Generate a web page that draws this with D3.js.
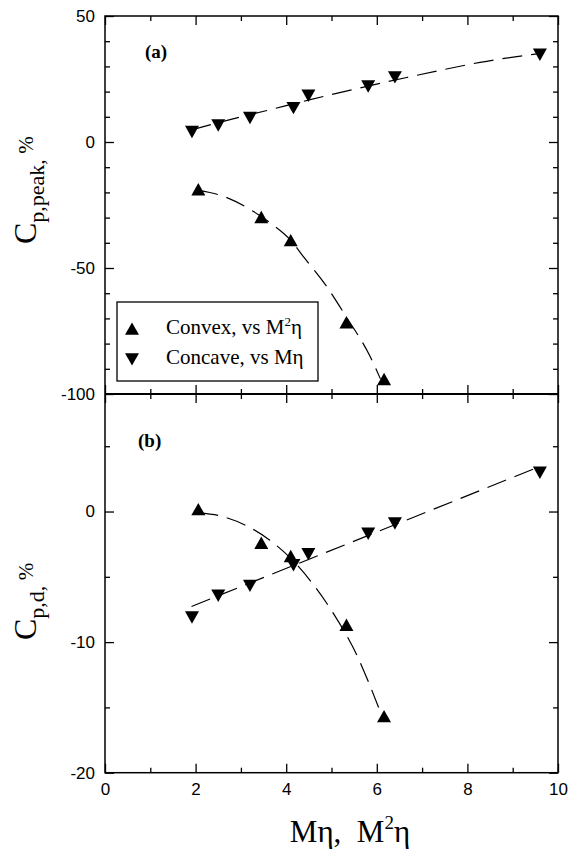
<!DOCTYPE html>
<html>
<head>
<meta charset="utf-8">
<script src="https://cdn.jsdelivr.net/npm/d3@7"></script>
<style>
  html, body { margin: 0; padding: 0; background: #fff; }
  svg { display: block; }
</style>
</head>
<body>
<div id="chart"></div>
<script>
// Two stacked panels sharing the x axis: (a) peak Cp, (b) Cp,d
// Upward triangles = convex (vs M^2 eta), downward = concave (vs M eta)

const convexX      = [2.06, 3.45, 4.10, 5.33, 6.16];
const convexPeak   = [-18.9, -29.9, -39.1, -71.7, -94.2];
const convexD      = [0.15, -2.42, -3.44, -8.70, -15.7];

const concaveX     = [1.92, 2.50, 3.20, 4.16, 4.49, 5.81, 6.40, 9.60];
const concavePeak  = [4.1, 6.7, 9.7, 13.6, 18.5, 22.2, 25.8, 34.8];
const concaveD     = [-8.08, -6.42, -5.66, -4.08, -3.24, -1.67, -0.89, 3.0];

// dashed fit curves
const fitPeakConvexX  = [2.06, 2.61, 3.27, 3.64, 4.10, 4.38, 4.86, 5.33, 5.85, 6.08];
const fitPeakConvexY  = [-19.2, -21.5, -27.5, -32, -39, -45.5, -56.5, -69.5, -85, -94];
const fitPeakConcaveX = [1.91, 2.76, 3.53, 4.53, 5.11, 6.66, 7.47, 8.28, 9.55];
const fitPeakConcaveY = [4.8, 8.9, 12.3, 16.8, 19.3, 25.6, 28.7, 31.6, 35.0];
const fitDConvexX     = [2.06, 2.50, 3.13, 3.64, 4.16, 4.60, 5.04, 5.56, 5.81, 6.04];
const fitDConvexY     = [-0.1, -0.3, -1.1, -2.2, -3.8, -5.6, -7.8, -11.0, -13.0, -15.0];
const fitDConcaveX    = [1.91, 9.60];
const fitDConcaveY    = [-7.27, 3.45];

const xTicksMajor     = [0, 2, 4, 6, 8, 10];
const xTicksMinor     = [1, 3, 5, 7, 9];
const peakTicksMajor  = [50, 0, -50, -100];
const peakTicksMinor  = [40, 30, 20, 10, -10, -20, -30, -40, -60, -70, -80, -90];
const dTicksMajor     = [0, -10, -20];
const dTicksMinor     = [5, -5, -15];

const legendLabels    = ["Convex, vs M", "Concave, vs M\u03b7"];

const W = 568, H = 852;
const L = 105, R = 558, T = 16, MID = 394, B = 772.7;
const SANS  = "'Liberation Sans', Arial, sans-serif";
const SERIF = "'Liberation Serif', 'Times New Roman', serif";

const x     = d3.scaleLinear().domain([0, 10]).range([L, R]);
const yPeak = d3.scaleLinear().domain([-100, 50]).range([MID, T]);
const yD    = d3.scaleLinear().domain([-20, 9]).range([B, MID]);

const svg = d3.select("#chart").append("svg")
  .attr("width", W)
  .attr("height", H)
  .attr("viewBox", `0 0 ${W} ${H}`);

const UP   = "M-7,5.8L7,5.8L0,-6.6Z";
const DOWN = "M-7,-5.8L7,-5.8L0,6.6Z";

function zip(xs, ys) { return xs.map((v, i) => [v, ys[i]]); }

function styleAxis(g, labels) {
  g.select(".domain").remove();
  g.selectAll(".tick line").attr("stroke", "#000").attr("stroke-width", 1.3);
  g.selectAll("text")
    .attr("fill", "#000")
    .attr("font-size", "17px")
    .attr("font-family", SANS)
    .style("display", labels ? null : "none");
}

function drawTicks(yScale, top, bottom, yMajor, yMinor, bottomLabels) {
  const defs = [
    [d3.axisLeft,   yScale, L, 0, yMajor, yMinor, true],
    [d3.axisRight,  yScale, R, 0, yMajor, yMinor, false],
    [d3.axisTop,    x, 0, top,    xTicksMajor, xTicksMinor, false],
    [d3.axisBottom, x, 0, bottom, xTicksMajor, xTicksMinor, bottomLabels],
  ];
  defs.forEach(([fn, sc, tx, ty, major, minor, labels]) => {
    const gMaj = svg.append("g")
      .attr("transform", `translate(${tx},${ty})`)
      .call(fn(sc).tickValues(major).tickSize(-9).tickPadding(10).tickFormat(d => String(d)));
    styleAxis(gMaj, labels);
    const gMin = svg.append("g")
      .attr("transform", `translate(${tx},${ty})`)
      .call(fn(sc).tickValues(minor).tickSize(-5).tickFormat(""));
    styleAxis(gMin, false);
  });
}

function drawFit(xs, ys, yScale) {
  const line = d3.line()
    .x(d => x(d[0]))
    .y(d => yScale(d[1]))
    .curve(d3.curveMonotoneX);
  svg.append("path")
    .datum(zip(xs, ys))
    .attr("d", line)
    .attr("fill", "none")
    .attr("stroke", "#000")
    .attr("stroke-width", 1.2)
    .attr("stroke-dasharray", "20,9");
}

function drawMarkers(xs, ys, yScale, shape) {
  svg.append("g")
    .selectAll("path")
    .data(zip(xs, ys))
    .join("path")
      .attr("d", shape)
      .attr("transform", d => `translate(${x(d[0])},${yScale(d[1])})`)
      .attr("fill", "#000");
}

// ticks
drawTicks(yPeak, T, MID, peakTicksMajor, peakTicksMinor, false);
drawTicks(yD, MID, B, dTicksMajor, dTicksMinor, true);

// frames
svg.append("rect")
  .attr("x", L).attr("y", T)
  .attr("width", R - L).attr("height", B - T)
  .attr("fill", "none")
  .attr("stroke", "#000")
  .attr("stroke-width", 1.5);
svg.append("line")
  .attr("x1", L).attr("x2", R)
  .attr("y1", MID).attr("y2", MID)
  .attr("stroke", "#000")
  .attr("stroke-width", 2.2);

// fits
drawFit(fitPeakConcaveX, fitPeakConcaveY, yPeak);
drawFit(fitPeakConvexX, fitPeakConvexY, yPeak);
drawFit(fitDConcaveX, fitDConcaveY, yD);
drawFit(fitDConvexX, fitDConvexY, yD);

// markers
drawMarkers(concaveX, concavePeak, yPeak, DOWN);
drawMarkers(convexX, convexPeak, yPeak, UP);
drawMarkers(concaveX, concaveD, yD, DOWN);
drawMarkers(convexX, convexD, yD, UP);

// panel tags
[["(a)", 145, 58], ["(b)", 138, 447]].forEach(([t, tx, ty]) => {
  svg.append("text")
    .attr("x", tx).attr("y", ty)
    .attr("font-family", SERIF)
    .attr("font-weight", "bold")
    .attr("font-size", "19px")
    .text(t);
});

// legend
const leg = svg.append("g");
leg.append("rect")
  .attr("x", 117).attr("y", 302)
  .attr("width", 201).attr("height", 79)
  .attr("fill", "#fff")
  .attr("stroke", "#000")
  .attr("stroke-width", 1.3);
[[UP, 329], [DOWN, 359]].forEach(([shape, cy]) => {
  leg.append("path")
    .attr("d", shape)
    .attr("transform", `translate(132,${cy})`)
    .attr("fill", "#000");
});
const lt1 = leg.append("text")
  .attr("x", 166).attr("y", 334)
  .attr("font-family", SERIF).attr("font-size", "21px");
lt1.append("tspan").text(legendLabels[0]);
lt1.append("tspan").attr("dy", -8).attr("font-size", "13px").text("2");
lt1.append("tspan").attr("dy", 8).text("\u03b7");
leg.append("text")
  .attr("x", 166).attr("y", 364)
  .attr("font-family", SERIF).attr("font-size", "21px")
  .text(legendLabels[1]);

// axis titles
const xt = svg.append("text")
  .attr("x", 350).attr("y", 842)
  .attr("text-anchor", "middle")
  .attr("font-family", SERIF).attr("font-size", "31px")
  .attr("xml:space", "preserve");
xt.append("tspan").text("M\u03b7,  M");
xt.append("tspan").attr("dy", -13).attr("font-size", "19px").text("2");
xt.append("tspan").attr("dy", 13).text("\u03b7");

function yTitle(sub, cx, yStart) {
  const t = svg.append("text")
    .attr("transform", `translate(${cx},${yStart}) rotate(-90)`)
    .attr("font-family", SERIF).attr("font-size", "32px");
  t.append("tspan").text("C");
  t.append("tspan").attr("dy", 8).attr("font-size", "22px").text(sub + ", ");
  t.append("tspan").attr("dy", -11).attr("font-size", "21px").text("%");
}
yTitle("p,peak", 36, 244);
yTitle("p,d", 36, 640);
</script>
</body>
</html>
